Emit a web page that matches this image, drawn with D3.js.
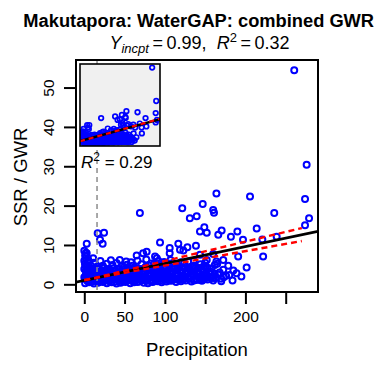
<!DOCTYPE html>
<html><head><meta charset="utf-8">
<script src="https://cdn.jsdelivr.net/npm/d3@7"></script>
<style>body{margin:0;background:#fff} svg{display:block;font-family:"Liberation Sans",Arial,sans-serif}</style>
</head><body><svg id="c" width="383" height="365"></svg>
<script>
// ---- data (Precipitation, SSR / GWR) ----
const denseObs = [
 [1,0.3],[6,0.5],[12,0.2],[17,0.4],[23,0.6],[28,0.3],[34,0.5],[40,0.2],[45,0.4],[51,0.6],[57,0.3],[62,0.5],[68,0.7],[74,0.4],[79,0.3],[85,0.6],[91,0.8],[96,0.5],[102,0.7],[108,0.9],[114,0.6],[120,0.8],[126,1.0],[133,0.7],[139,1.1],[146,0.9],[153,1.2],[160,1.0],
 [3,1.1],[8,1.3],[14,1.0],[20,1.2],[26,1.4],[31,1.1],[37,1.3],[43,1.0],[48,1.2],[54,1.4],[60,1.1],[65,1.3],[71,1.5],[77,1.2],[82,1.0],[88,1.4],[94,1.6],[99,1.3],[105,1.5],[111,1.2],[117,1.6],[123,1.4],[129,1.7],[136,1.3],[142,1.8],[149,1.5],[156,1.9],[163,1.6],[170,1.4],
 [0,1.8],[5,2.0],[10,1.7],[16,1.9],[22,2.1],[29,1.8],[35,2.0],[41,1.7],[47,2.2],[52,1.9],[58,2.1],[64,1.8],[70,2.3],[76,2.0],[81,2.2],[87,1.9],[93,2.4],[98,2.1],[104,2.3],[110,2.0],[116,2.5],[122,2.2],[128,2.6],[135,2.3],[141,2.7],[148,2.4],[155,2.8],[166,2.5],[176,2.2],
 [2,2.5],[7,2.7],[13,2.4],[19,2.6],[25,2.8],[32,2.5],[38,2.7],[44,2.4],[50,2.9],[56,2.6],[61,2.8],[67,2.5],[73,3.0],[79,2.7],[86,2.9],[92,2.6],[97,3.1],[103,2.8],[109,3.2],[115,2.9],[121,3.3],[127,3.0],[133,3.4],[140,3.1],[147,3.5],[157,3.2],[168,3.0],
 [4,3.2],[9,3.4],[15,3.1],[21,3.3],[27,3.5],[33,3.2],[39,3.4],[46,3.1],[53,3.6],[59,3.3],[66,3.5],[72,3.2],[78,3.7],[84,3.4],[90,3.6],[96,3.3],[101,3.8],[107,3.5],[113,3.9],[119,3.6],[125,4.0],[131,3.7],[138,4.1],[145,3.8],[153,4.2],
 [0,3.9],[6,4.1],[11,3.8],[18,4.0],[24,4.2],[30,3.9],[36,4.1],[42,3.8],[49,4.3],[55,4.0],[63,4.2],[70,3.9],[76,4.4],[83,4.1],[89,4.3],[95,4.0],[100,4.5],[112,4.2],[118,4.6],[130,4.3],[137,4.7],[150,4.4],
 [2,4.6],[8,4.8],[16,4.5],[23,4.7],[35,4.9],[47,4.6],[53,5.0],[60,4.7],[71,5.1],[80,4.8],[87,5.2],[94,4.9],[104,5.3],[115,5.0],[124,5.4],[144,5.1],
 [1,5.3],[12,5.5],[28,5.2],[40,5.4],[58,5.6],[83,5.3],[99,5.7],[110,5.4],[129,5.8],
 [0,6.0],[2,6.6],[1,7.3],[3,7.9],[0,8.5],[4,5.6],[1,5.1],[5,6.2],[2,8.0]
];
const fillObs = [
 [4,0.8],[9,0.6],[15,0.9],[20,0.7],[26,1.0],[31,0.8],[37,0.6],[43,0.9],[48,0.7],[54,1.0],[60,0.8],[66,0.6],[71,1.0],[77,0.9],[83,0.7],[88,1.1],[94,0.9],[100,1.2],[105,1.0],[111,1.3],[117,1.1],[123,1.2],[130,1.4],[136,1.0],[143,1.5],[149,1.3],[157,1.6],
 [1,1.5],[6,1.7],[11,1.4],[17,1.6],[23,1.5],[28,1.8],[34,1.6],[40,1.4],[45,1.7],[51,1.5],[57,1.8],[62,1.6],[68,1.9],[74,1.7],[79,1.5],[85,1.8],[91,2.0],[96,1.7],[102,1.9],[108,1.6],[114,2.1],[120,1.8],[126,2.0],[132,1.9],[139,2.2],[145,2.0],[152,2.3],[160,2.1],[173,1.8],
 [3,2.2],[10,2.3],[17,2.1],[24,2.4],[30,2.2],[36,2.3],[42,2.1],[49,2.5],[55,2.3],[62,2.4],[69,2.2],[75,2.6],[82,2.4],[89,2.7],[95,2.5],[101,2.6],[108,2.7],[114,2.5],[121,2.8],[128,2.9],[135,2.7],[142,3.0],[151,2.9],[162,2.7],
 [2,3.6],[7,3.7],[13,3.5],[19,3.8],[26,3.6],[32,3.7],[38,3.5],[44,3.8],[51,3.9],[57,3.6],[64,3.8],[69,3.6],[75,4.0],[81,3.8],[87,3.9],[93,3.7],[99,4.1],[105,3.9],[110,4.2],[116,4.0],[122,4.3],[128,4.1],[135,4.4],[141,4.2],[148,4.5],[158,4.0],
 [20,5.9],[33,6.1],[52,5.8],[66,6.0],[77,6.3],[92,5.9],[107,6.2],[120,5.6],[136,6.0],[150,5.5],[165,5.2],[185,3.5],[195,2.0],[184,1.0],[170,0.8]
];
const sparseObs = [
 [260.6,54.4],[276,30.4],[274,21.7],[279,16.8],[274,15.0],[205.7,22.3],[164,23.1],[147,20.4],[121.6,19.3],[160,18.9],[161,18.2],[131,16.8],[139.5,17.3],[69,18.1],[235.8,18.1],
 [214,14.2],[143.6,13.4],[149,14.5],[152,13.1],[166.3,12.6],[170.5,13.7],[182,12.1],[190,13.4],[197,11.3],[221,11.4],[222,7.1],[238.8,12.1],[201.5,4.3],[191,7.1],
 [94,10.6],[116.7,10.3],[106,9.2],[118.8,8.8],[106,7.9],[123,8.6],[128,9.4],[138.6,9.8],[87.8,7.1],
 [3,10.3],[16.6,13.0],[24.5,13.1],[19.5,11.3],[22.8,10.3],[11,6.6],[44,6.2],[65,7.3],[73,7.9],[77.4,8.3],[90,6.6],
 [178.7,4.7],[189,2.8],[160,1.6],[172.5,6.2],[164,5.8],[152,6.2],[143.6,7.5],[162,4.9],[172.5,3.7],[180,2.4],[152,2.0],[143.6,1.1],[160,7.7]
];
const mainFit = [0.99, 0.043];          // intercept, slope
const redUpper = [[0, 1.0], [270, 14.3]];
const redLower = [[0, 1.1], [270, 11.0]];
const insetFit = [2.2, 0.052];
const insetRedFit = [2.0, 0.054];
const cutoffPrecip = 15.8;
const xTicks = [0, 50, 100, 150, 200, 250];
const xTickLabels = ["0", "50", "100", "", "200", ""];
const yTicks = [0, 10, 20, 30, 40, 50];
const titleText = "Makutapora: WaterGAP: combined GWR";
const yIncpt = "0.99", r2Main = "0.32", r2Inset = "0.29";

const obs = denseObs.concat(fillObs, sparseObs);
const svg = d3.select("#c");
const xDom = [-10.3, 290.1], yDom = [-1.95, 57];
const x = d3.scaleLinear().domain(xDom).range([76, 318]);
const y = d3.scaleLinear().domain(yDom).range([292, 60]);
const xi = d3.scaleLinear().domain(xDom).range([80, 160]);
const yi = d3.scaleLinear().domain(yDom).range([146, 64]);

const defs = svg.append("defs");
defs.append("clipPath").attr("id","cm").append("rect").attr("x",76).attr("y",60).attr("width",242).attr("height",232);
defs.append("clipPath").attr("id","ci").append("rect").attr("x",80).attr("y",64).attr("width",80).attr("height",82);

const gm = svg.append("g").attr("clip-path","url(#cm)");
gm.selectAll("circle").data(obs).join("circle")
  .attr("cx", d => x(d[0])).attr("cy", d => y(d[1])).attr("r", 3.0)
  .attr("fill","none").attr("stroke","#0000ff").attr("stroke-width",2.0);
gm.append("line").attr("x1", x(cutoffPrecip)).attr("x2", x(cutoffPrecip)).attr("y1", 60).attr("y2", 292)
  .attr("stroke","#8c8c8c").attr("stroke-width",1.5).attr("stroke-dasharray","5,4");
gm.append("line").attr("x1", x(xDom[0])).attr("y1", y(mainFit[0]+mainFit[1]*xDom[0]))
  .attr("x2", x(xDom[1])).attr("y2", y(mainFit[0]+mainFit[1]*xDom[1]))
  .attr("stroke","#000").attr("stroke-width",2.6);
[redUpper, redLower].forEach(l => {
  gm.append("line").attr("x1", x(l[0][0])).attr("y1", y(l[0][1])).attr("x2", x(l[1][0])).attr("y2", y(l[1][1]))
    .attr("stroke","#ff0000").attr("stroke-width",2.4).attr("stroke-dasharray","6,4");
});

// inset
svg.append("rect").attr("x",80).attr("y",64).attr("width",80).attr("height",82).attr("fill","#f0f0f0");
const gi = svg.append("g").attr("clip-path","url(#ci)");
gi.selectAll("circle").data(obs).join("circle")
  .attr("cx", d => xi(d[0])).attr("cy", d => yi(d[1])).attr("r", 2.3)
  .attr("fill","none").attr("stroke","#0000ff").attr("stroke-width",1.7);
gi.append("line").attr("x1", xi(xDom[0])).attr("y1", yi(insetFit[0]+insetFit[1]*xDom[0]))
  .attr("x2", xi(xDom[1])).attr("y2", yi(insetFit[0]+insetFit[1]*xDom[1]))
  .attr("stroke","#000").attr("stroke-width",2.4);
gi.append("line").attr("x1", xi(xDom[0])).attr("y1", yi(insetRedFit[0]+insetRedFit[1]*xDom[0]))
  .attr("x2", xi(xDom[1])).attr("y2", yi(insetRedFit[0]+insetRedFit[1]*xDom[1]))
  .attr("stroke","#ff0000").attr("stroke-width",2.2).attr("stroke-dasharray","5,4");
svg.append("rect").attr("x",80).attr("y",64).attr("width",80).attr("height",82)
  .attr("fill","none").attr("stroke","#000").attr("stroke-width",1.6);

// main box
svg.append("rect").attr("x",76).attr("y",60).attr("width",242).attr("height",232)
  .attr("fill","none").attr("stroke","#000").attr("stroke-width",2);

// axes
const ax = svg.append("g").attr("transform","translate(0,292)")
  .call(d3.axisBottom(x).tickValues(xTicks).tickSize(12).tickPadding(6.5).tickFormat((d,i)=>xTickLabels[i]));
ax.select(".domain").remove();
ax.selectAll("line").attr("stroke","#000").attr("stroke-width",2);
ax.selectAll("text").attr("font-size","15.5px").attr("fill","#000").attr("font-family","Liberation Sans, Arial, sans-serif");

const ay = svg.append("g").attr("transform","translate(76,0)")
  .call(d3.axisLeft(y).tickValues(yTicks).tickSize(12).tickFormat(d3.format("d")));
ay.select(".domain").remove();
ay.selectAll("line").attr("stroke","#000").attr("stroke-width",2);
ay.selectAll("text").attr("x",0).attr("y",0).attr("dy",0)
  .attr("transform","translate(-22,0) rotate(-90)").attr("text-anchor","middle")
  .attr("font-size","15.5px").attr("fill","#000").attr("font-family","Liberation Sans, Arial, sans-serif");

// labels
svg.append("text").attr("x",198.7).attr("y",27).attr("text-anchor","middle")
  .attr("font-size","18.3px").attr("font-weight","bold").text(titleText);
const st = svg.append("text").attr("x",199.5).attr("y",49).attr("text-anchor","middle").attr("font-size","18px");
st.append("tspan").attr("font-style","italic").text("Y");
st.append("tspan").attr("font-style","italic").attr("font-size","13px").attr("dy",4).text("incpt");
st.append("tspan").attr("dy",-4).text("\u2009=\u2009" + yIncpt + ",\u00a0\u00a0");
st.append("tspan").attr("font-style","italic").text("R");
st.append("tspan").attr("font-size","13px").attr("dy",-7).text("2");
st.append("tspan").attr("dy",7).text("\u2009=\u2009" + r2Main);

const rt = svg.append("text").attr("x",81).attr("y",168).attr("font-size","17px");
rt.append("tspan").attr("font-style","italic").text("R");
rt.append("tspan").attr("font-size","12px").attr("dy",-7).text("2");
rt.append("tspan").attr("dy",7).text(" = " + r2Inset);

svg.append("text").attr("x",197).attr("y",356).attr("text-anchor","middle").attr("font-size","18.5px").text("Precipitation");
svg.append("text").attr("transform","translate(27,177) rotate(-90)").attr("text-anchor","middle").attr("font-size","18.5px").text("SSR / GWR");
</script></body></html>
